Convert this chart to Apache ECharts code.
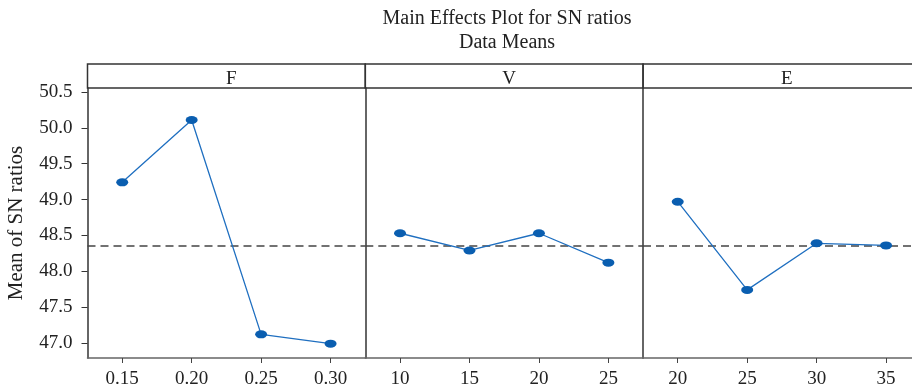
<!DOCTYPE html>
<html><head><meta charset="utf-8">
<script src="https://cdn.jsdelivr.net/npm/echarts@6/dist/echarts.min.js"></script>
<style>html,body{margin:0;padding:0;background:#fff}#c{width:912px;height:391px}</style>
</head><body><div id="c"></div>
<script>
const panelNames = ['F', 'V', 'E'];
const fLevels = ['0.15', '0.20', '0.25', '0.30'];
const vLevels = ['10', '15', '20', '25'];
const eLevels = ['20', '25', '30', '35'];
const fMeans = [49.24, 50.11, 47.12, 46.99];
const vMeans = [48.53, 48.29, 48.53, 48.12];
const eMeans = [48.97, 47.74, 48.39, 48.36];
const overallMean = 48.36;
const yTicks = [47.0, 47.5, 48.0, 48.5, 49.0, 49.5, 50.0, 50.5];

const FONT = 'Liberation Serif';
const levels = [fLevels, vLevels, eLevels];
const means = [fMeans, vMeans, eMeans];
const lefts = [87.5, 365.3, 643];
const W = 277.8;
const TOP = 88, H = 270;

const grids = [], xAxes = [], yAxes = [], series = [], titles = [];
titles.push({
  text: 'Main Effects Plot for SN ratios',
  subtext: 'Data Means',
  left: 502, top: 4, textAlign: 'center', itemGap: 4,
  textStyle: {fontFamily: FONT, fontSize: 20, fontWeight: 'normal', color: '#222'},
  subtextStyle: {fontFamily: FONT, fontSize: 20, color: '#222'}
});
for (let i = 0; i < 3; i++) {
  grids.push({left: lefts[i], top: TOP, width: W, height: H, containLabel: false, outerBoundsMode: 'none'});
  xAxes.push({
    type: 'category', gridIndex: i, data: levels[i], boundaryGap: true,
    axisLine: {show: true, lineStyle: {color: '#666', width: 1.5}},
    axisTick: {show: true, alignWithLabel: true, length: 5, lineStyle: {color: '#444'}},
    axisLabel: {fontFamily: FONT, fontSize: 19, color: '#222', margin: 12},
    splitLine: {show: false}
  });
  yAxes.push({
    type: 'value', gridIndex: i, min: 46.79, max: 50.556,
    axisLine: {show: true, lineStyle: {color: '#333', width: 1.5}},
    axisTick: {show: i === 0, length: 6, lineStyle: {color: '#333'}, customValues: yTicks},
    axisLabel: {show: i === 0, fontFamily: FONT, fontSize: 19, color: '#222', margin: 15,
      customValues: yTicks, formatter: v => v.toFixed(1)},
    splitLine: {show: false},
    name: i === 0 ? 'Mean of SN ratios' : '',
    nameLocation: 'middle', nameGap: 61, nameRotate: 90,
    nameTextStyle: {fontFamily: FONT, fontSize: 21, color: '#222'}
  });
  series.push({
    type: 'line', xAxisIndex: i, yAxisIndex: i, data: means[i],
    symbol: 'circle', symbolSize: [12, 8],
    itemStyle: {color: '#0a5eb0'},
    lineStyle: {color: '#1f6fc0', width: 1.3},
    z: 3,
    markLine: {
      silent: true, symbol: 'none', label: {show: false},
      lineStyle: {color: '#444', width: 1.5, type: [8, 5]},
      data: [{yAxis: overallMean}], z: 2
    }
  });
  titles.push({
    text: panelNames[i], left: lefts[i] + W / 2, top: 65, textAlign: 'center',
    textStyle: {fontFamily: FONT, fontSize: 19, fontWeight: 'normal', color: '#222'}
  });
}
// header strips
for (let i = 0; i < 3; i++) {
  grids.push({left: lefts[i], top: 64, width: W, height: 24, show: true, outerBoundsMode: 'none',
    borderColor: '#333', borderWidth: 1.5, backgroundColor: 'transparent'});
  xAxes.push({type: 'category', gridIndex: 3 + i, show: false, data: ['']});
  yAxes.push({type: 'value', gridIndex: 3 + i, show: false});
}

const chart = echarts.init(document.getElementById('c'), null, {renderer: 'canvas'});
chart.setOption({
  animation: false,
  backgroundColor: '#fff',
  title: titles,
  grid: grids,
  xAxis: xAxes,
  yAxis: yAxes,
  series: series
});
</script></body></html>
